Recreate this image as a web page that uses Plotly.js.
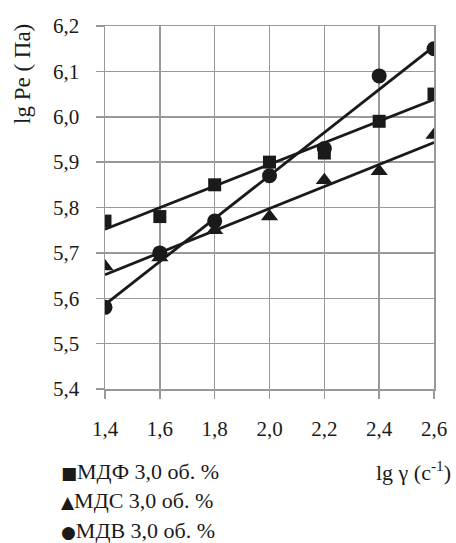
<!DOCTYPE html>
<html><head><meta charset="utf-8">
<script src="https://cdn.plot.ly/plotly-3.0.1.min.js"></script>
<style>html,body{margin:0;padding:0;background:#fff}</style>
</head><body><div id="chart" style="width:456px;height:543px"></div>
<script>
const shearRate = [1.4, 1.6, 1.8, 2.0, 2.2, 2.4, 2.6];
const mdf = [5.77, 5.78, 5.85, 5.90, 5.92, 5.99, 6.05];
const mds = [5.67, 5.69, 5.75, 5.78, 5.86, 5.88, 5.96];
const mdv = [5.58, 5.70, 5.77, 5.87, 5.93, 6.09, 6.15];
const trendX = [1.4, 2.6];
const mdfTrend = [5.752, 6.038];
const mdsTrend = [5.652, 5.943];
const mdvTrend = [5.586, 6.155];
const seriesNames = ['МДФ 3,0 об. %', 'МДС 3,0 об. %', 'МДВ 3,0 об. %'];
const legendGlyphs = ['■', '▲', '●'];
const xTickVals = [1.4, 1.6, 1.8, 2.0, 2.2, 2.4, 2.6];
const xTickText = ['1,4', '1,6', '1,8', '2,0', '2,2', '2,4', '2,6'];
const yTickVals = [5.4, 5.5, 5.6, 5.7, 5.8, 5.9, 6.0, 6.1, 6.2];
const yTickText = ['5,4', '5,5', '5,6', '5,7', '5,8', '5,9', '6,0', '6,1', '6,2'];

const ink = '#1a1a1a';
const grid = '#999999';
const serif = 'Liberation Serif';

const lineStyle = {color: ink, width: 2.8};
const traces = [
  {x: trendX, y: mdfTrend, mode: 'lines', line: lineStyle, hoverinfo: 'skip'},
  {x: trendX, y: mdsTrend, mode: 'lines', line: lineStyle, hoverinfo: 'skip'},
  {x: trendX, y: mdvTrend, mode: 'lines', line: lineStyle, hoverinfo: 'skip'},
  {x: shearRate, y: mdf, mode: 'markers', name: seriesNames[0], marker: {symbol: 'square', size: 13, color: ink}},
  {x: shearRate, y: mds, mode: 'markers', name: seriesNames[1], marker: {symbol: 'triangle-up', size: 15, color: ink}},
  {x: shearRate, y: mdv, mode: 'markers', name: seriesNames[2], marker: {symbol: 'circle', size: 15, color: ink}}
];

const L = 105, R = 434, T = 26, B = 389;
const px = p => (p - L) / (R - L);
const py = p => (B - p) / (B - T);

const annotations = [
  {xref: 'paper', yref: 'paper', x: px(22), y: py(74), text: 'lg Pe ( Па)', textangle: -90,
   showarrow: false, xanchor: 'center', yanchor: 'middle', font: {family: serif, size: 23, color: ink}},
  {xref: 'paper', yref: 'paper', x: px(453), y: py(471), text: 'lg γ (c<sup>-1</sup>)',
   showarrow: false, xanchor: 'right', yanchor: 'middle', font: {family: serif, size: 22, color: ink}}
];
const legendY = [471, 500, 530];
seriesNames.forEach((n, i) => {
  annotations.push({xref: 'paper', yref: 'paper', x: px(59), y: py(legendY[i]),
    text: '<span style="font-family:DejaVu Sans;font-size:17px">' + legendGlyphs[i] + '</span>' + n,
    showarrow: false, xanchor: 'left', yanchor: 'middle', font: {family: serif, size: 22, color: ink}});
});

const axisCommon = {
  showgrid: true, gridcolor: grid, gridwidth: 1.5,
  showline: true, mirror: true, linecolor: grid, linewidth: 1.5,
  ticks: 'outside', ticklen: 8, tickcolor: grid, tickwidth: 1.5,
  zeroline: false, tickmode: 'array',
  tickfont: {family: serif, size: 21, color: ink}
};

const layout = {
  width: 456, height: 543,
  margin: {l: L, r: 456 - R, t: T, b: 543 - B},
  paper_bgcolor: '#fff', plot_bgcolor: '#fff',
  font: {family: serif, color: ink},
  showlegend: false,
  xaxis: Object.assign({}, axisCommon, {range: [1.4, 2.6], tickvals: xTickVals, ticktext: xTickText, ticklabelstandoff: 12}),
  yaxis: Object.assign({}, axisCommon, {range: [5.4, 6.2], tickvals: yTickVals, ticktext: yTickText, ticklabelstandoff: 12}),
  annotations: annotations
};

Plotly.newPlot('chart', traces, layout, {staticPlot: true, displayModeBar: false});
</script></body></html>
